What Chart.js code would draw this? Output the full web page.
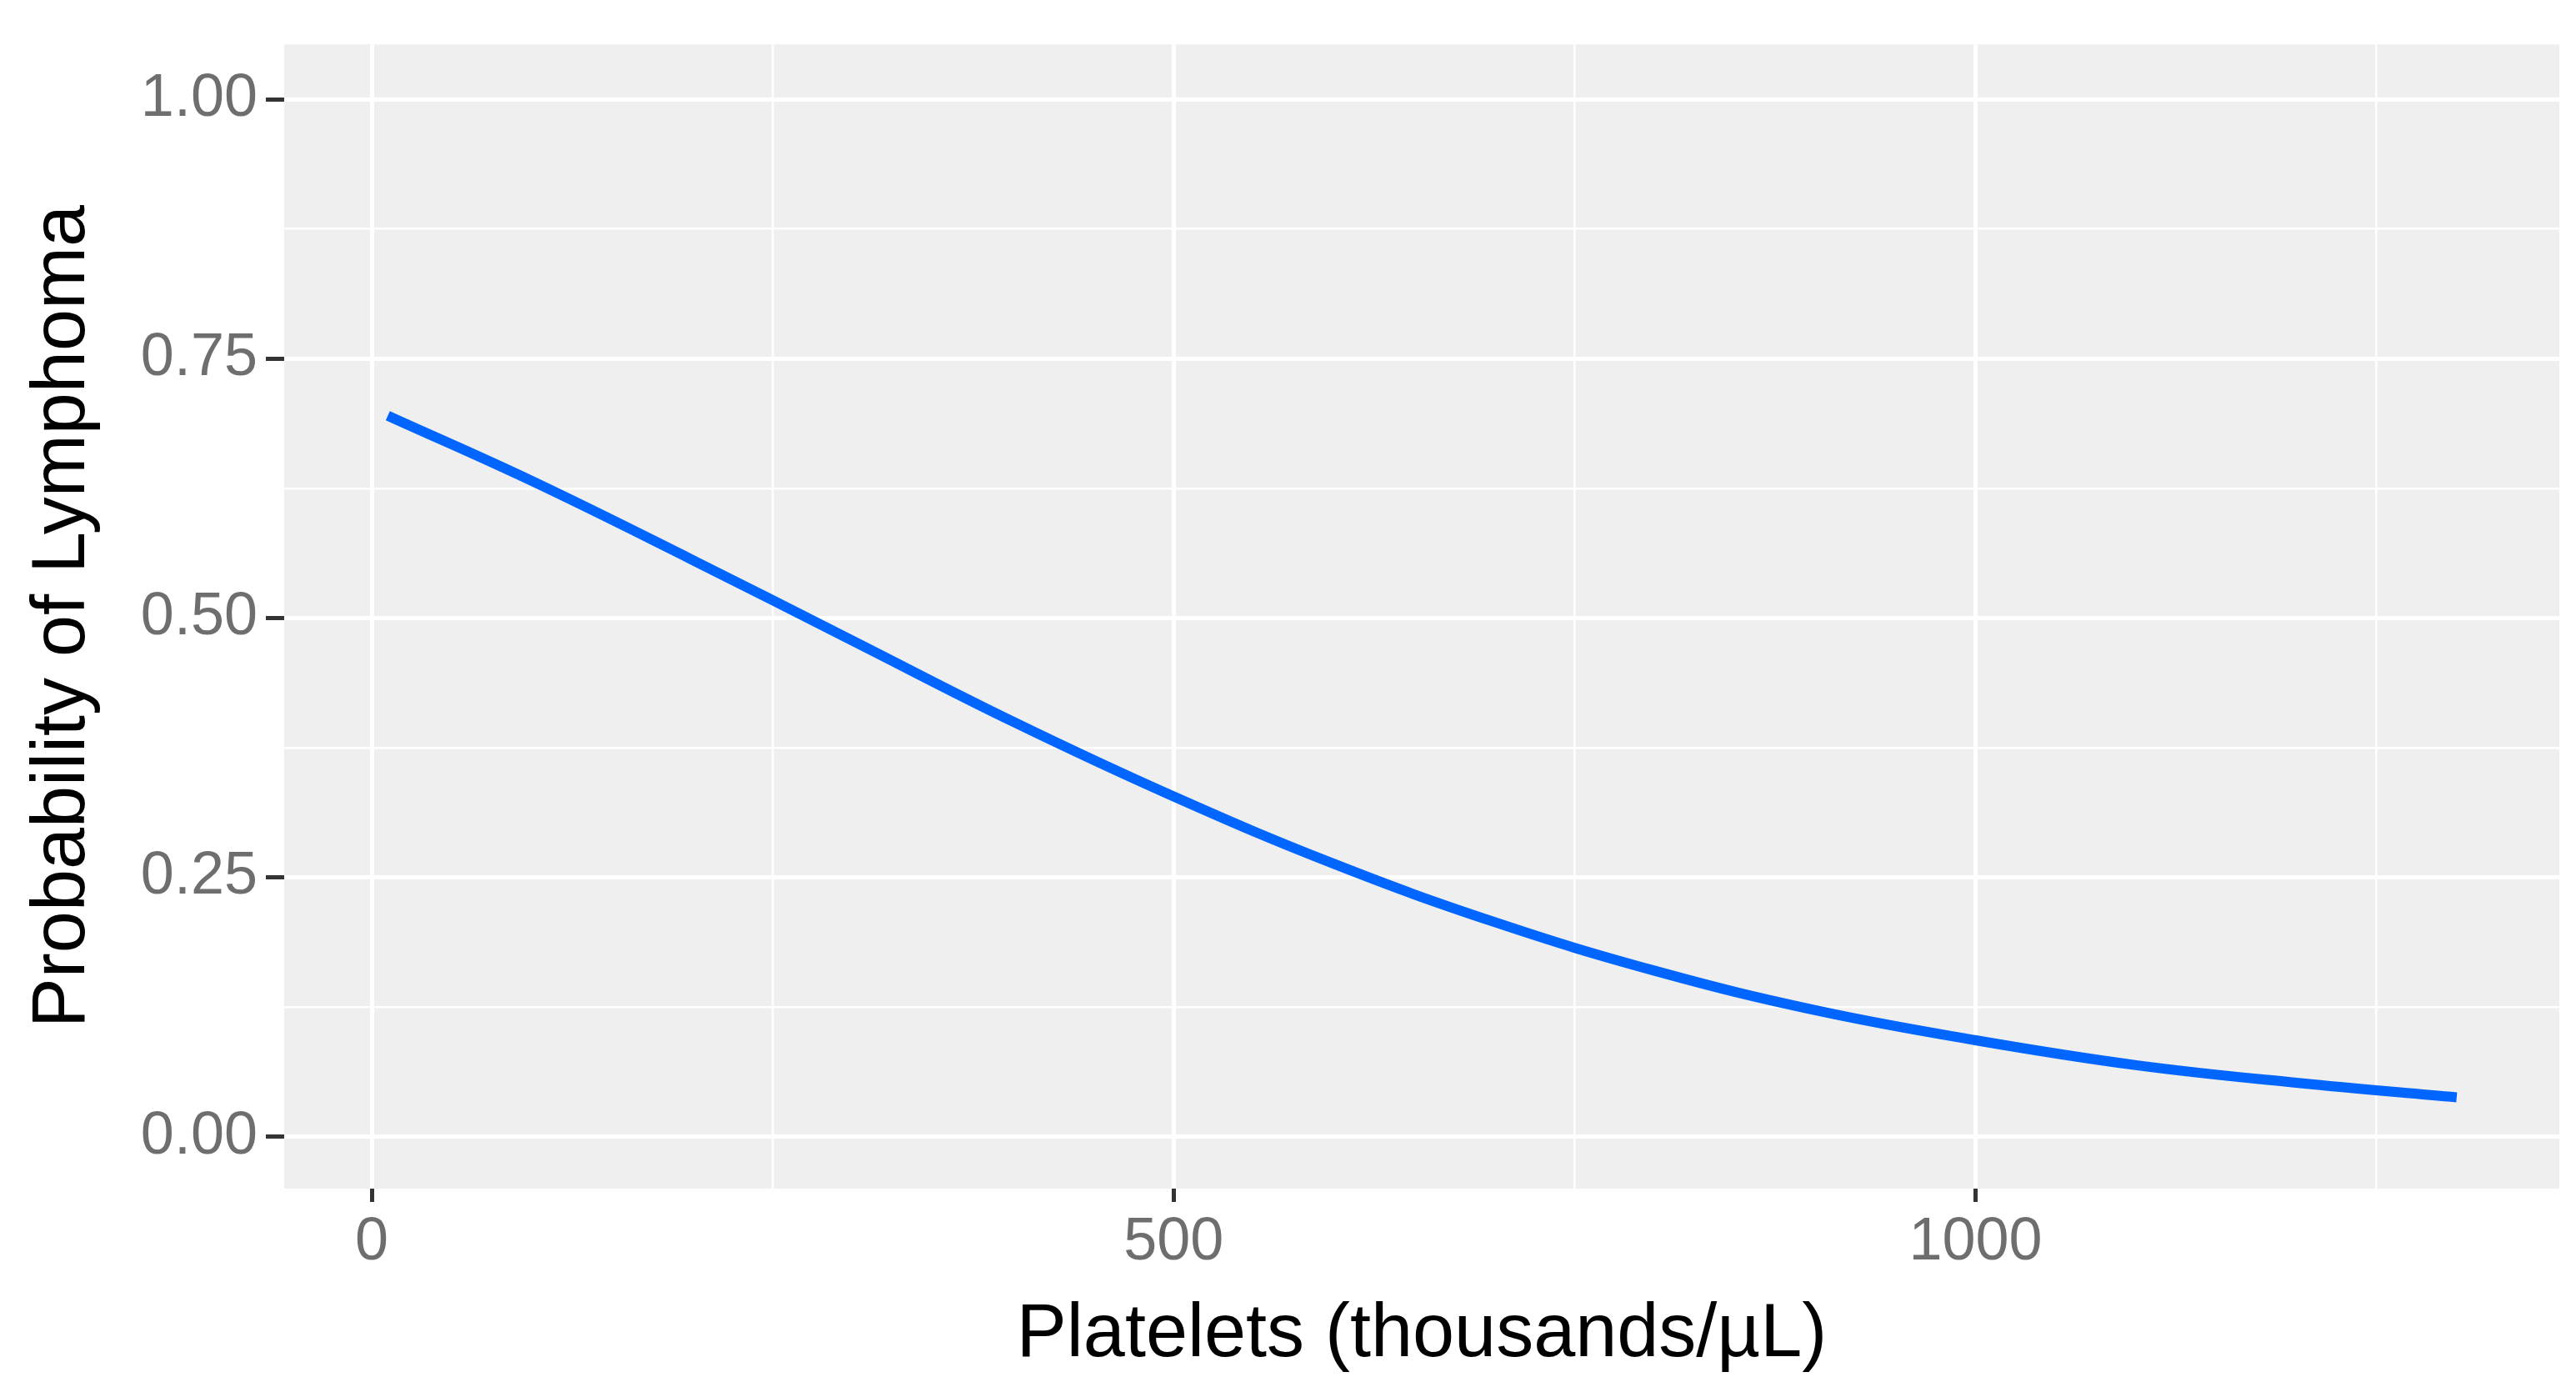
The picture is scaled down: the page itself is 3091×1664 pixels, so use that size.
<!DOCTYPE html>
<html>
<head>
<meta charset="utf-8">
<script src="https://cdn.jsdelivr.net/npm/chart.js@4"></script>
<style>
  html, body { margin: 0; padding: 0; background: #fff; }
  #chart { display: block; }
</style>
</head>
<body>
<canvas id="chart" width="3091" height="1664"></canvas>
<script>
// data
var platelets = [10, 100, 200, 300, 400, 500, 600, 700, 800, 900, 1000, 1100, 1200, 1300];
var probability = [0.695, 0.632, 0.556, 0.478, 0.40, 0.328, 0.263, 0.207, 0.16, 0.122, 0.093, 0.069, 0.052, 0.038];
var xTicks = [0, 250, 500, 750, 1000, 1250];
var xMajor = [0, 500, 1000];
var yTicks = [0, 0.125, 0.25, 0.375, 0.5, 0.625, 0.75, 0.875, 1];
var yMajor = [0, 0.25, 0.5, 0.75, 1];

var tickFont = { family: 'Liberation Sans, Arial, sans-serif', size: 72 };
var titleFont = { family: 'Liberation Sans, Arial, sans-serif', size: 90 };

function isMajor(list, v) {
    return list.some(function (m) { return Math.abs(m - v) < 1e-9; });
}

// grey panel behind the plot
var panelBg = {
    id: 'panelBg',
    beforeDraw: function (chart) {
        var a = chart.chartArea, ctx = chart.ctx;
        ctx.save();
        ctx.fillStyle = '#efefef';
        ctx.fillRect(a.left, a.top, a.right - a.left, a.bottom - a.top);
        ctx.restore();
    }
};

new Chart(document.getElementById('chart').getContext('2d'), {
    type: 'line',
    data: {
        datasets: [{
            data: platelets.map(function (x, i) { return { x: x, y: probability[i] }; }),
            borderColor: '#0066ff',
            borderWidth: 12,
            pointRadius: 0,
            tension: 0.4,
            fill: false
        }]
    },
    options: {
        responsive: false,
        animation: false,
        layout: { padding: { top: 12, right: 20, left: 0, bottom: 0 } },
        plugins: { legend: { display: false }, tooltip: { enabled: false } },
        scales: {
            x: {
                type: 'linear',
                min: -54.6,
                max: 1364,
                afterBuildTicks: function (s) { s.ticks = xTicks.map(function (v) { return { value: v }; }); },
                afterFit: function (s) { s.height = 238; },
                border: { display: false },
                grid: {
                    color: '#ffffff',
                    lineWidth: function (c) { return isMajor(xMajor, c.tick.value) ? 5 : 2.5; },
                    tickColor: function (c) { return isMajor(xMajor, c.tick.value) ? '#333333' : 'rgba(0,0,0,0)'; },
                    tickWidth: 5,
                    tickLength: 16
                },
                ticks: {
                    font: tickFont,
                    color: '#6e6e6e',
                    padding: 6,
                    maxRotation: 0,
                    autoSkip: false,
                    callback: function (v) { return isMajor(xMajor, v) ? String(v) : ''; }
                },
                title: {
                    display: true,
                    text: 'Platelets (thousands/µL)',
                    font: titleFont,
                    color: '#000000',
                    padding: { top: 0, bottom: 8 }
                }
            },
            y: {
                min: -0.05,
                max: 1.053,
                afterBuildTicks: function (s) { s.ticks = yTicks.map(function (v) { return { value: v }; }); },
                afterFit: function (s) { s.width = 341; },
                border: { display: false },
                grid: {
                    color: '#ffffff',
                    lineWidth: function (c) { return isMajor(yMajor, c.tick.value) ? 5 : 2.5; },
                    tickColor: function (c) { return isMajor(yMajor, c.tick.value) ? '#333333' : 'rgba(0,0,0,0)'; },
                    tickWidth: 5,
                    tickLength: 22
                },
                ticks: {
                    font: tickFont,
                    color: '#6e6e6e',
                    padding: 10,
                    autoSkip: false,
                    callback: function (v) { return isMajor(yMajor, v) ? v.toFixed(2) : ''; }
                },
                title: {
                    display: true,
                    text: 'Probability of Lymphoma',
                    font: titleFont,
                    color: '#000000',
                    padding: { top: 22, bottom: 0 }
                }
            }
        }
    },
    plugins: [panelBg]
});
</script>
</body>
</html>
